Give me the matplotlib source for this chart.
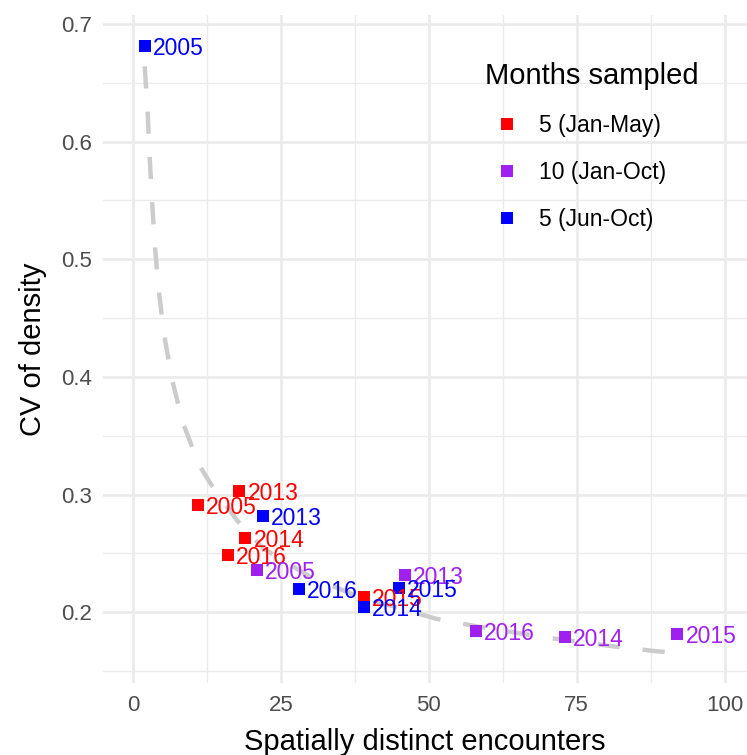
import numpy as np
import matplotlib
matplotlib.use("Agg")
import matplotlib.pyplot as plt
from matplotlib.lines import Line2D

plt.rcParams['font.family'] = ['Liberation Sans', 'DejaVu Sans']

# sampling groups
groups = ['5 (Jan-May)', '10 (Jan-Oct)', '5 (Jun-Oct)']
colors = ['#FF0000', '#A020F0', '#0000FF']

# points per group: years, encounters, CV
years_janmay = ['2005', '2013', '2014', '2016', '2015']
enc_janmay = [11, 18, 19, 16, 39]
cv_janmay = [0.2915, 0.3028, 0.2631, 0.2484, 0.2129]

years_janoct = ['2005', '2013', '2016', '2014', '2015']
enc_janoct = [21, 46, 58, 73, 92]
cv_janoct = [0.2362, 0.2320, 0.1840, 0.1790, 0.1812]

years_junoct = ['2005', '2013', '2016', '2014', '2015']
enc_junoct = [2, 22, 28, 39, 45]
cv_junoct = [0.6815, 0.2816, 0.2195, 0.2044, 0.2206]

# fitted curve
curve_x = [2.0, 2.47, 2.82, 3.23, 3.70, 4.36, 5.29, 6.60, 8.41, 11.11, 13.18,
           17.57, 22.06, 29.95, 37.55, 51.06, 58.67, 69.9, 81.08, 88.6, 92.0]
curve_y = [0.664, 0.6269, 0.5886, 0.5503, 0.5120, 0.4738, 0.4355, 0.3981,
           0.3615, 0.3258, 0.3088, 0.2782, 0.2541, 0.2300, 0.2144, 0.1946,
           0.1874, 0.1784, 0.1710, 0.1667, 0.1656]

fig = plt.figure(figsize=(7.47, 7.55), dpi=100)
ax = fig.add_axes([0.1383, 0.0954, 0.8617, 0.8848])

series = [(years_janmay, enc_janmay, cv_janmay),
          (years_janoct, enc_janoct, cv_janoct),
          (years_junoct, enc_junoct, cv_junoct)]

ax.plot(curve_x, curve_y, color='#CCCCCC', lw=3.2, dashes=(5, 5.2),
        solid_capstyle='butt', dash_capstyle='butt', zorder=2)

for (yrs, xs, ys), col in zip(series, colors):
    ax.scatter(xs, ys, marker='s', s=64, color=col, linewidths=0, zorder=3)
    for yr, xv, yv in zip(yrs, xs, ys):
        ax.annotate(yr, (xv, yv), xytext=(5.8, 0), textcoords='offset points',
                    ha='left', va='center_baseline', fontsize=16.5, color=col, zorder=4)

ax.set_xlim(-5, 103.77)
ax.set_ylim(0.1398, 0.7077)
ax.set_xticks([0, 25, 50, 75, 100])
ax.set_yticks([0.2, 0.3, 0.4, 0.5, 0.6, 0.7])
ax.set_xticks([12.5, 37.5, 62.5, 87.5], minor=True)
ax.set_yticks([0.15, 0.25, 0.35, 0.45, 0.55, 0.65], minor=True)
ax.grid(which='major', color='#EBEBEB', lw=1.9)
ax.grid(which='minor', color='#EBEBEB', lw=1.0)
ax.set_axisbelow(True)
ax.tick_params(which='both', length=0, labelsize=16, labelcolor='#4D4D4D', pad=8.5)
for s in ax.spines.values():
    s.set_visible(False)

ax.set_xlabel('Spatially distinct encounters', fontsize=21, labelpad=9)
ax.set_ylabel('CV of density', fontsize=21, labelpad=10)

handles = [Line2D([], [], marker='s', linestyle='none', markersize=8,
                  markerfacecolor=c, markeredgewidth=0) for c in colors]
leg = ax.legend(handles, groups, title='Months sampled', frameon=False,
                fontsize=16.5, title_fontsize=21, loc='upper left',
                bbox_to_anchor=(0.621, 0.945), bbox_transform=fig.transFigure,
                labelspacing=1.05, handletextpad=0.38, alignment='left')

fig.savefig('out.png', dpi=100)
